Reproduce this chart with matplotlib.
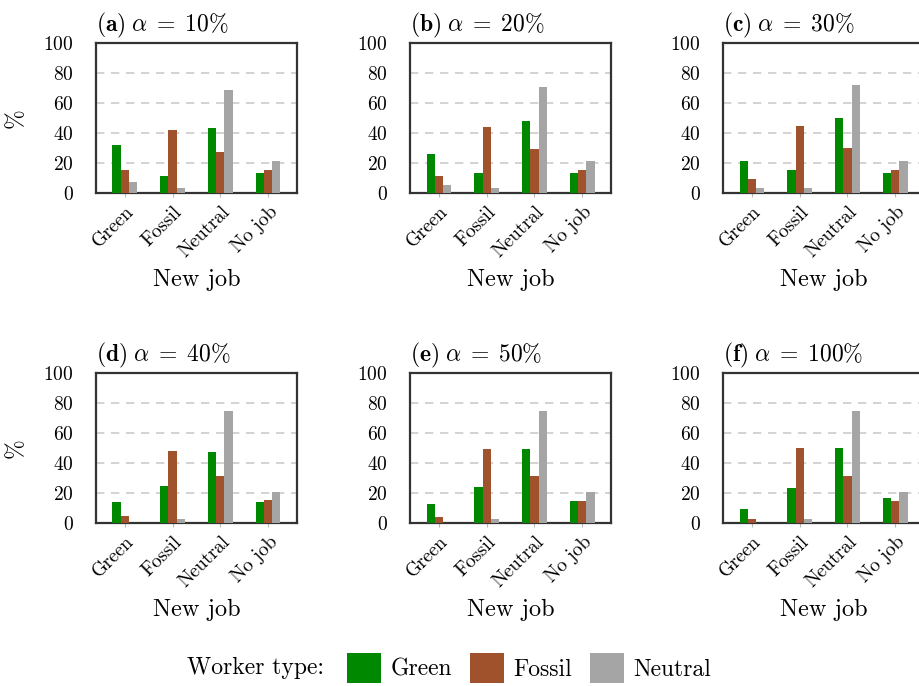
import numpy as np
import matplotlib
matplotlib.use("Agg")
import matplotlib.pyplot as plt
from matplotlib.patches import Patch

plt.rcParams['font.family'] = 'cmr10'
plt.rcParams['mathtext.fontset'] = 'cm'
plt.rcParams['axes.formatter.use_mathtext'] = True

# Data (% of workers of each type by new job)
new_jobs = ["Green", "Fossil", "Neutral", "No job"]
worker_types = ["Green", "Fossil", "Neutral"]
colors = ["#008800", "#a0522d", "#a5a5a5"]
alphas = ["10", "20", "30", "40", "50", "100"]
letters = ["a", "b", "c", "d", "e", "f"]

# rows: worker type (Green, Fossil, Neutral); cols: new job
share_a = [[32, 11, 43, 13.5], [15, 42, 27.5, 15.5], [7, 3, 68.5, 21.5]]
share_b = [[26, 13, 48, 13], [11.5, 44, 29, 15], [5, 3, 70.5, 21]]
share_c = [[21.5, 15.5, 50, 13], [9.5, 44.5, 30, 15], [3.5, 3, 72, 21]]
share_d = [[14, 24.5, 47, 14], [4.5, 48, 31.5, 15.5], [0, 3, 74.5, 20.5]]
share_e = [[12.5, 24, 49, 14.5], [4, 49, 31.5, 14.5], [0, 3, 74.5, 20.5]]
share_f = [[9.5, 23, 50, 16.5], [2.5, 50, 31.5, 14.5], [0, 3, 74.5, 20.5]]
shares = [share_a, share_b, share_c, share_d, share_e, share_f]

fig = plt.figure(figsize=(9.2, 6.86), dpi=100)

# third column runs slightly past the right edge, as in the original crop
lefts = [0.1043, 0.4457, 0.7859]
bottoms = [0.7187, 0.2376]
w, h = 0.2185, 0.2187

x = np.arange(len(new_jobs))
bw = 0.17

for i, data in enumerate(shares):
    r, c = divmod(i, 3)
    ax = fig.add_axes([lefts[c], bottoms[r], w, h])
    for k, wt in enumerate(worker_types):
        ax.bar(x + (k - 1) * bw, data[k], width=bw, color=colors[k],
               label=wt, zorder=3)
    ax.set_xlim(-0.6, 3.6)
    ax.set_ylim(0, 100)
    ax.set_yticks([0, 20, 40, 60, 80, 100])
    for yv in [20, 40, 60, 80]:
        ax.axhline(yv, color="#cccccc", lw=1.2, ls=(0, (5, 4)), zorder=1)
    ax.set_xticks(x)
    ax.set_xticklabels(new_jobs, rotation=45, ha="right",
                       rotation_mode="anchor", fontsize=14)
    ax.tick_params(axis="y", labelsize=14, length=0, pad=16)
    ax.tick_params(axis="x", length=3, color="#bbbbbb", pad=4)
    for s in ax.spines.values():
        s.set_color("#333333")
        s.set_linewidth(1.6)
    ax.set_xlabel("New job", fontsize=17.5, labelpad=6)
    if c == 0:
        ax.set_ylabel(r"%", fontsize=17, labelpad=12)
    ax.set_title(r"$\mathbf{(%s)}\;\alpha\;=\;%s\%%$" % (letters[i], alphas[i]),
                 loc="left", fontsize=17, pad=8)

fig.text(0.203, 0.026, "Worker type:", fontsize=17, va="center", ha="left")
handles = [Patch(facecolor=col, label=wt) for col, wt in zip(colors, worker_types)]
fig.legend(handles=handles, loc="center left", bbox_to_anchor=(0.377, 0.026),
           ncol=3, frameon=False, fontsize=17, handlelength=1.45,
           handleheight=1.55, handletextpad=0.4, columnspacing=0.75,
           borderaxespad=0, borderpad=0)

fig.savefig("out.png", dpi=100)
